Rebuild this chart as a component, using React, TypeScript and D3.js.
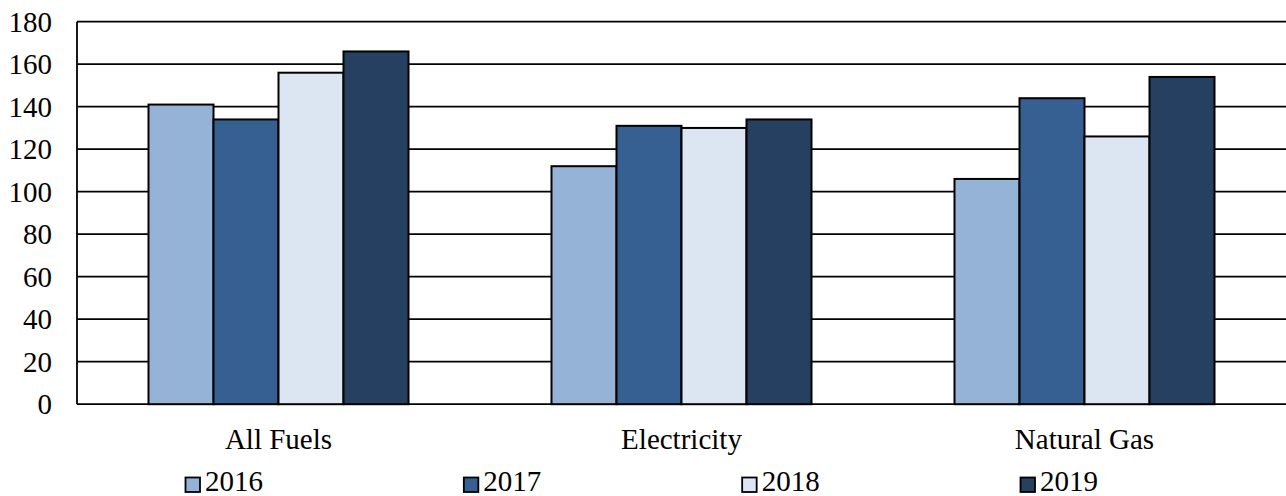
import React from "react";
import * as d3 from "d3";

const categories = ["All Fuels", "Electricity", "Natural Gas"];
const years = ["2016", "2017", "2018", "2019"];
const values2016 = [141, 112, 106];
const values2017 = [134, 131, 144];
const values2018 = [156, 130, 126];
const values2019 = [166, 134, 154];
const yTicks = [0, 20, 40, 60, 80, 100, 120, 140, 160, 180];
const colors = ["#95B3D7", "#376092", "#DCE6F2", "#254061"];

const series = [values2016, values2017, values2018, values2019];

const W = 1286;
const H = 496;
const FONT = "Liberation Serif";

export default function App() {
  const x = d3.scaleBand<string>().domain(categories).range([77, 1286]).padding(0);
  const xs = d3
    .scaleBand<string>()
    .domain(years)
    .range([0, x.bandwidth()])
    .paddingInner(0)
    .paddingOuter(1.1);
  const y = d3.scaleLinear().domain([0, 180]).range([404.2, 21.7]);

  const legendX = d3.scalePoint<string>().domain(years).range([185, 1020]);

  return (
    <svg
      width={W}
      height={H}
      style={{ position: "absolute", left: 0, top: 0, background: "#fff" }}
    >
      <rect x={0} y={0} width={W} height={H} fill="#fff" />
      {yTicks.map((t) => (
        <g key={t}>
          <line x1={77} x2={1286} y1={y(t)} y2={y(t)} stroke="#000" strokeWidth={1.8} />
          <text
            x={52}
            y={y(t)}
            dy="0.34em"
            textAnchor="end"
            fontFamily={FONT}
            fontSize={29}
            fill="#000"
          >
            {t}
          </text>
        </g>
      ))}
      <line x1={77} x2={77} y1={y(180)} y2={y(0)} stroke="#000" strokeWidth={1.8} />
      {categories.map((c, ci) => (
        <g key={c}>
          {years.map((yr, si) => {
            const v = series[si][ci];
            const bx = (x(c) as number) + (xs(yr) as number);
            return (
              <rect
                key={yr}
                x={bx}
                y={y(v)}
                width={xs.bandwidth()}
                height={y(0) - y(v)}
                fill={colors[si]}
                stroke="#000"
                strokeWidth={2}
              />
            );
          })}
          <text
            x={(x(c) as number) + x.bandwidth() / 2}
            y={449}
            textAnchor="middle"
            fontFamily={FONT}
            fontSize={29}
            fill="#000"
          >
            {c}
          </text>
        </g>
      ))}
      {years.map((yr, si) => {
        const lx = legendX(yr) as number;
        return (
          <g key={yr}>
            <rect
              x={lx + 0.5}
              y={477.5}
              width={14.5}
              height={14.5}
              fill={colors[si]}
              stroke="#000"
              strokeWidth={1.8}
            />
            <text x={lx + 20} y={491} fontFamily={FONT} fontSize={29} fill="#000">
              {yr}
            </text>
          </g>
        );
      })}
    </svg>
  );
}
